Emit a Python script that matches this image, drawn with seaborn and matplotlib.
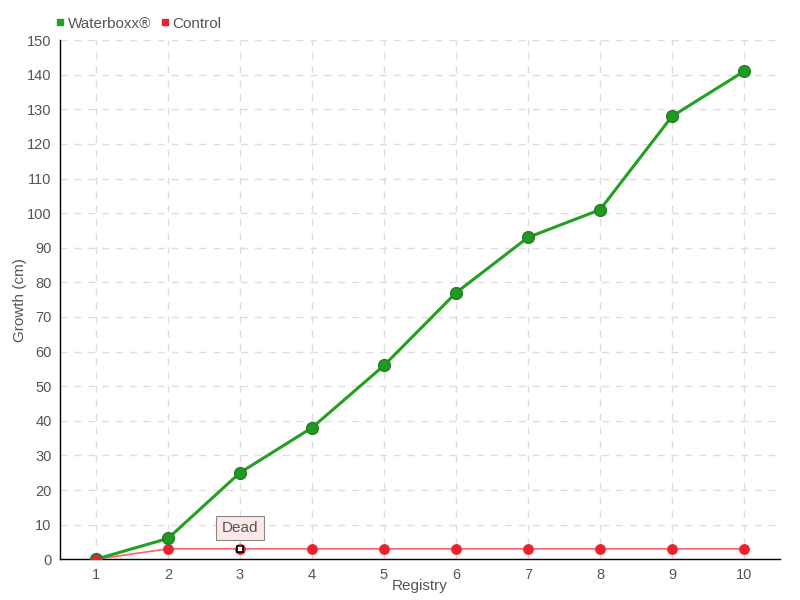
import matplotlib
matplotlib.use("Agg")
import matplotlib.pyplot as plt
import seaborn as sns
import pandas as pd
import numpy as np
from matplotlib.lines import Line2D

registry = [1, 2, 3, 4, 5, 6, 7, 8, 9, 10]
waterboxx = [0, 6, 25, 38, 56, 77, 93, 101, 128, 141]
control = [0, 3, 3, 3, 3, 3, 3, 3, 3, 3]

sns.set_style("white")
plt.rcParams["font.family"] = ["Liberation Sans", "DejaVu Sans"]

df = pd.DataFrame({"Registry": registry, "Waterboxx": waterboxx, "Control": control})

fig = plt.figure(figsize=(8, 6), dpi=100)
ax = fig.add_axes([0.075, 0.068, 0.9, 0.865])

green = "#1e9a1e"
red = "#ee2030"
txt = "#555555"

sns.lineplot(data=df, x="Registry", y="Control", ax=ax, color="#ff6070", linewidth=1.2,
             marker="o", markersize=7, markerfacecolor=red, markeredgecolor=red, zorder=3)
sns.lineplot(data=df, x="Registry", y="Waterboxx", ax=ax, color="#22a020", linewidth=2.2,
             marker="o", markersize=8.5, markerfacecolor=green, markeredgecolor="#2a7a2a",
             markeredgewidth=1, zorder=4)
# first control point sits on top of the green one
ax.plot(registry[0], control[0], "o", color=red, markeredgecolor="#2a7a2a", markersize=8, zorder=5)
# dead point
ax.plot(registry[2], control[2], "s", markerfacecolor="white", markeredgecolor="black",
        markersize=5, markeredgewidth=1.2, zorder=6)
ax.annotate("Dead", xy=(registry[2], control[2] + 0.8), xytext=(registry[2], control[2] + 6.0),
            ha="center", va="center", fontsize=11, color=txt,
            bbox=dict(boxstyle="square,pad=0.35", fc="#fde8e8", ec="#888888", lw=0.8),
            arrowprops=dict(arrowstyle="-", color="#888888", lw=0.8), zorder=7)

ax.set_xlim(0.5, 10.5)
ax.set_ylim(0, 150)
ax.set_xticks(registry)
ax.set_yticks(np.arange(0, 151, 10))
ax.grid(True, linestyle=(0, (5, 5)), color="#dddddd", linewidth=1)
for s in ["top", "right"]:
    ax.spines[s].set_visible(False)
for s in ["left", "bottom"]:
    ax.spines[s].set_color("black")
    ax.spines[s].set_linewidth(1)
ax.tick_params(axis="both", length=5, color="black", labelsize=10.5, labelcolor=txt, pad=1)
ax.set_xlabel("Registry", fontsize=11, color=txt, labelpad=-2)
ax.set_ylabel("Growth (cm)", fontsize=11, color=txt)
ax.yaxis.set_label_coords(-0.046, 0.5)

handles = [Line2D([], [], marker="s", linestyle="", color="#22a020", markersize=5),
           Line2D([], [], marker="s", linestyle="", color=red, markersize=5)]
fig.legend(handles, ["Waterboxx®", "Control"], loc="upper left", bbox_to_anchor=(0.052, 0.995),
           ncol=2, frameon=False, fontsize=11, labelcolor=txt, handlelength=0.6,
           handletextpad=0.2, columnspacing=0.6)

plt.savefig("out.png", dpi=100)
